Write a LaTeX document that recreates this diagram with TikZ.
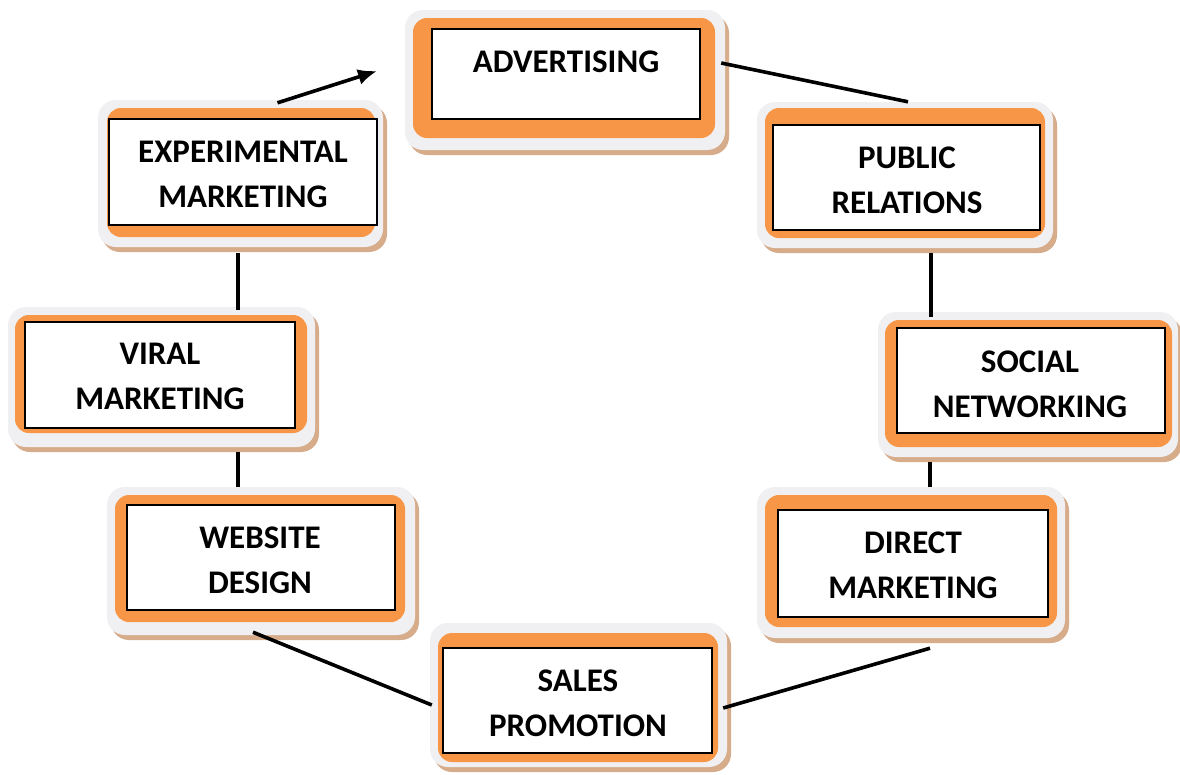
\documentclass[tikz,border=0pt]{standalone}
\usepackage{fontspec}
\setmainfont{Carlito}
\usetikzlibrary{arrows.meta,fit,shadows}
\definecolor{orng}{HTML}{F79646}
\definecolor{glow}{HTML}{F0F0F2}
\definecolor{shad}{HTML}{D6AC8B}
\tikzset{
  outerbox/.style={fill=glow, rounded corners=18pt, inner sep=0pt, draw=none,
    drop shadow={shadow xshift=4pt, shadow yshift=-5pt, fill=shad, opacity=1}},
  orangebox/.style={fill=orng, rounded corners=14pt},
  whitebox/.style={fill=white, draw=black, line width=2pt},
  lbl/.style={font=\bfseries\fontsize{33}{45}\selectfont, align=center, text=black, inner sep=0pt},
  link/.style={line width=3.6pt, draw=black},
}
\newcommand\mkbox[9]{%
  \node[outerbox, fit={(#2) (#3)}] (#1) {};
  \fill[orangebox] (#4) rectangle (#5);
  \draw[whitebox] (#6) rectangle (#7);
  \node[lbl] (#1t) at (#8) {#9};
}
\begin{document}
\begin{tikzpicture}[x=1pt, y=-1pt]
\useasboundingbox[fill=white] (0,0) rectangle (1180,774);
\mkbox{adv}{405,10}{725,150}{413,18}{715,138}{432,29}{700,119}{566,62}{ADVERTISING}
\mkbox{exp}{98,100}{383,247}{107,108}{375,237}{109,119}{377,225}{243,174.5}{EXPERIMENTAL\\MARKETING}
\mkbox{pr}{757,102}{1053,248}{765,108}{1045,238}{773,125}{1040,230}{907,180}{PUBLIC\\RELATIONS}
\mkbox{sn}{878,312}{1178,457}{885,320}{1172,447}{897,328}{1165,433}{1030,384}{SOCIAL\\NETWORKING}
\mkbox{dm}{757,487}{1065,638}{765,495}{1057,627}{778,510}{1048,617}{913,565.5}{DIRECT\\MARKETING}
\mkbox{sp}{430,623}{727,767}{438,633}{718,762}{443,648}{712,753}{578,703.5}{SALES\\PROMOTION}
\mkbox{vm}{8,307}{315,447}{15,315}{307,433}{25,322}{295,428}{160,376.5}{VIRAL\\MARKETING}
\mkbox{wd}{107,487}{415,635}{115,495}{405,622}{127,505}{395,610}{260,560.5}{WEBSITE\\DESIGN}
\coordinate (arrowend) at (377,71);
\draw[link, -{Latex[length=19pt,width=16pt]}] ([xshift=37pt,yshift=-3pt]exp.north) -- (arrowend);
\draw[link] ([xshift=-4pt,yshift=17pt]adv.east) -- ([xshift=3pt]pr.north);
\draw[link] ([xshift=26pt,yshift=-5pt]pr.south) -- ([xshift=26pt,yshift=-5pt]pr.south |- sn.north);
\draw[link] ([xshift=19pt,yshift=-5pt]dm.north |- sn.south) -- ([xshift=19pt]dm.north);
\draw[link] ([xshift=19pt,yshift=-10pt]dm.south) -- ([xshift=-4pt,yshift=-13pt]sp.east);
\draw[link] ([xshift=2pt,yshift=-10pt]sp.west) -- ([xshift=-8pt,yshift=3pt]wd.south);
\draw[link] ([xshift=-23pt,yshift=-5pt]wd.north |- vm.south) -- ([xshift=-23pt]wd.north);
\draw[link] ([xshift=-2.5pt,yshift=-6pt]exp.south) -- ([xshift=-2.5pt,yshift=-3pt]exp.south |- vm.north);
\end{tikzpicture}
\end{document}
